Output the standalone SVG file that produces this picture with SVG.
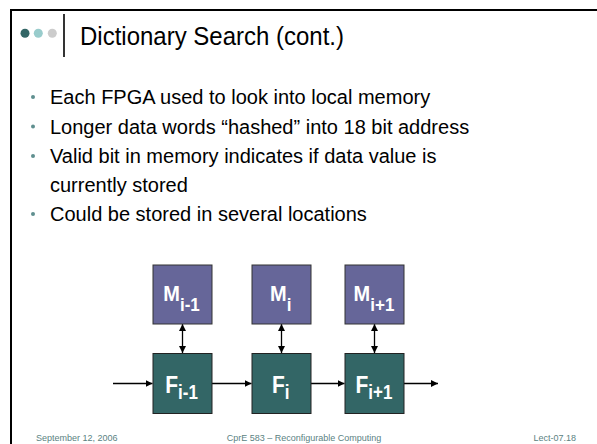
<svg xmlns="http://www.w3.org/2000/svg" width="597" height="444" viewBox="0 0 597 444">
<defs>
<style>
.frame{stroke:#000;stroke-width:2;fill:none}
.title{font-family:"Liberation Sans",Arial,sans-serif;font-size:24px;fill:#000}
.body{font-family:"Liberation Sans",Arial,sans-serif;font-size:20px;fill:#000}
.foot{font-family:"Liberation Sans",Arial,sans-serif;font-size:9px;fill:#5a8282}
.bul{fill:#5f8f8f}
.mbox{fill:#666699;stroke:#333;stroke-width:1}
.fbox{fill:#336666;stroke:#222;stroke-width:1}
.lbl{font-family:"Liberation Sans",Arial,sans-serif;font-size:20px;font-weight:bold;fill:#fff}
.flbl{font-family:"Liberation Sans",Arial,sans-serif;font-size:21px;font-weight:bold;fill:#fff}
.sub{font-size:17px}
.conn{stroke:#000;stroke-width:1.3;fill:none}
</style>
<marker id="ah" viewBox="0 0 10 10" refX="10" refY="5" markerWidth="7" markerHeight="7" markerUnits="userSpaceOnUse" orient="auto-start-reverse">
<path d="M0,0 L10,5 L0,10 z" fill="#000"/>
</marker>
</defs>
<rect width="597" height="444" fill="#fff"/>
<g id="frame">
<line class="frame" x1="10" y1="10" x2="597" y2="10"/>
<line class="frame" x1="11" y1="10" x2="11" y2="444"/>
</g>
<g id="header">
<circle cx="25" cy="33.3" r="4.5" fill="#336666"/>
<circle cx="38.3" cy="33.3" r="4.5" fill="#99cccc"/>
<circle cx="52.3" cy="33.3" r="4.5" fill="#cccccc"/>
<line x1="64" y1="14" x2="64" y2="57" stroke="#000" stroke-width="1.6"/>
<text class="title" x="80" y="45" transform="translate(0,45) scale(1,1.1) translate(0,-45)">Dictionary Search (cont.)</text>
</g>
<g id="bullets">
<circle class="bul" cx="33" cy="97" r="2"/>
<text class="body" x="50" y="104">Each FPGA used to look into local memory</text>
<circle class="bul" cx="33" cy="126.5" r="2"/>
<text class="body" x="50" y="133.5">Longer data words “hashed” into 18 bit address</text>
<circle class="bul" cx="33" cy="156" r="2"/>
<text class="body" x="50" y="163">Valid bit in memory indicates if data value is</text>
<text class="body" x="50" y="191.5">currently stored</text>
<circle class="bul" cx="33" cy="214" r="2"/>
<text class="body" x="50" y="221">Could be stored in several locations</text>
</g>
<g id="connectors">
<line class="conn" x1="182.5" y1="324" x2="182.5" y2="353" marker-start="url(#ah)" marker-end="url(#ah)"/>
<line class="conn" x1="281.5" y1="324" x2="281.5" y2="353" marker-start="url(#ah)" marker-end="url(#ah)"/>
<line class="conn" x1="374.5" y1="324" x2="374.5" y2="353" marker-start="url(#ah)" marker-end="url(#ah)"/>
<line class="conn" x1="113" y1="383.5" x2="152.5" y2="383.5" marker-end="url(#ah)"/>
<line class="conn" x1="212" y1="383.5" x2="251.5" y2="383.5" marker-end="url(#ah)"/>
<line class="conn" x1="311" y1="383.5" x2="344.5" y2="383.5" marker-end="url(#ah)"/>
<line class="conn" x1="404" y1="383.5" x2="438" y2="383.5" marker-end="url(#ah)"/>
</g>
<g id="M1"><rect class="mbox" x="153" y="265" width="59" height="59"/><text class="lbl" transform="translate(181.5,301.3) scale(1,1.1)" text-anchor="middle">M<tspan class="sub" dy="8.5">i-1</tspan></text></g>
<g id="M2"><rect class="mbox" x="252" y="265" width="59" height="59"/><text class="lbl" transform="translate(280.7,301.3) scale(1,1.1)" text-anchor="middle">M<tspan class="sub" dy="8.5">i</tspan></text></g>
<g id="M3"><rect class="mbox" x="345" y="265" width="59" height="59"/><text class="lbl" transform="translate(374,301.3) scale(1,1.1)" text-anchor="middle">M<tspan class="sub" dy="8.5">i+1</tspan></text></g>
<g id="F1"><rect class="fbox" x="153" y="353.5" width="59" height="60"/><text class="flbl" transform="translate(181.5,392.5) scale(1,1.15)" text-anchor="middle">F<tspan class="sub" dy="6">i-1</tspan></text></g>
<g id="F2"><rect class="fbox" x="252" y="353.5" width="59" height="60"/><text class="flbl" transform="translate(280.7,392.5) scale(1,1.15)" text-anchor="middle">F<tspan class="sub" dy="6">i</tspan></text></g>
<g id="F3"><rect class="fbox" x="345" y="353.5" width="59" height="60"/><text class="flbl" transform="translate(374,392.5) scale(1,1.15)" text-anchor="middle">F<tspan class="sub" dy="6">i+1</tspan></text></g>
<g id="footer">
<text class="foot" x="36" y="441">September 12, 2006</text>
<text class="foot" x="304" y="441" text-anchor="middle">CprE 583 – Reconfigurable Computing</text>
<text class="foot" x="576" y="441" text-anchor="end">Lect-07.18</text>
</g>
</svg>
